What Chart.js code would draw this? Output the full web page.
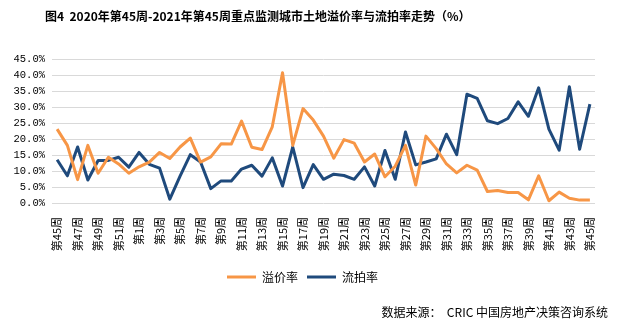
<!DOCTYPE html>
<html>
<head>
<meta charset="utf-8">
<script src="https://cdn.jsdelivr.net/npm/chart.js@4/dist/chart.umd.min.js"></script>
<style>
  html, body { margin: 0; padding: 0; background: #fff; }
  #wrap { position: relative; width: 626px; height: 331px; overflow: hidden; }
  #c { position: absolute; left: 0; top: 0; }
  #title { position: absolute; left: 45px; top: 7px; font: bold 12px "Noto Sans CJK SC", sans-serif; color: #000; white-space: pre; }
  #source { position: absolute; right: 18px; top: 303px; font: 12px "Noto Sans CJK SC", sans-serif; color: #000; white-space: pre; }
</style>
</head>
<body>
<div id="wrap">
  <canvas id="c" width="626" height="331"></canvas>
  <div id="title">图4  2020年第45周-2021年第45周重点监测城市土地溢价率与流拍率走势（%）</div>
  <div id="source">数据来源：  CRIC 中国房地产决策咨询系统</div>
</div>
<script>
// Categories: week 45 of 2020 through week 45 of 2021
const weeks2020 = [45, 46, 47, 48, 49, 50, 51, 52];
const weeks2021 = [1,2,3,4,5,6,7,8,9,10,11,12,13,14,15,16,17,18,19,20,21,22,23,24,25,26,27,28,29,30,31,32,33,34,35,36,37,38,39,40,41,42,43,44,45];
const categories = weeks2020.concat(weeks2021).map(w => '第' + w + '周');

const seriesNames = ['溢价率', '流拍率'];

const premiumRate = [23.1, 18.0, 7.3, 18.0, 9.3, 14.3, 12.2, 9.3, 11.3, 12.8, 15.8, 13.9, 17.5, 20.3,
  12.8, 14.4, 18.5, 18.4, 25.6, 17.4, 16.7, 23.8, 40.7,
  18.0, 29.5, 25.9, 20.9, 14.0, 19.8, 18.7, 12.8, 15.3, 8.2, 11.5, 18.0, 5.6,
  20.9, 17.0, 12.2, 9.4, 11.8, 10.3, 3.6, 3.9, 3.3, 3.3, 1.0, 8.5, 0.7, 3.4, 1.5, 0.9, 0.9];

const failedRate = [13.5, 8.5, 17.5, 7.2, 13.3, 13.3, 14.3, 11.2, 15.8, 12.1, 10.9, 1.2, 8.4, 15.1,
  12.8, 4.5, 6.9, 6.9, 10.6, 11.8, 8.4, 14.1, 5.3,
  17.5, 4.8, 12.0, 7.4, 9.0, 8.6, 7.4, 11.3, 5.3, 16.4, 7.4, 22.2, 11.9,
  12.8, 13.8, 21.5, 15.1, 34.0, 32.7, 25.7, 24.8, 26.4, 31.6, 27.1, 36.0, 23.1, 16.5, 36.3, 16.8, 30.9];

const yTicks = [0, 5, 10, 15, 20, 25, 30, 35, 40, 45];

const ORANGE = '#F79646';
const BLUE = '#1F4A7C';

new Chart(document.getElementById('c'), {
  type: 'line',
  data: {
    labels: categories,
    datasets: [
      { label: seriesNames[0], data: premiumRate, borderColor: ORANGE, backgroundColor: ORANGE, borderWidth: 3, pointRadius: 0, tension: 0, borderJoinStyle: 'round' },
      { label: seriesNames[1], data: failedRate, borderColor: BLUE, backgroundColor: BLUE, borderWidth: 3, pointRadius: 0, tension: 0, borderJoinStyle: 'round' }
    ]
  },
  options: {
    responsive: false,
    animation: false,
    events: [],
    layout: { padding: { left: 10, right: 31, top: 59, bottom: 38 } },
    scales: {
      x: {
        offset: true,
        grid: { display: false },
        border: { display: false },
        ticks: {
          autoSkip: false,
          maxRotation: 90,
          minRotation: 90,
          padding: 6,
          color: '#000',
          font: { family: '"Noto Sans CJK SC", sans-serif', size: 11 },
          callback: function (v, i) { return i % 2 === 0 ? this.getLabelForValue(v) : ''; }
        },
        afterFit: s => { s.height = 59; }
      },
      y: {
        min: 0,
        max: 45,
        afterBuildTicks: s => { s.ticks = yTicks.map(v => ({ value: v })); },
        grid: { color: '#D9D9D9', lineWidth: 1, drawTicks: false },
        border: { display: false },
        ticks: {
          padding: 7,
          color: '#000',
          font: { family: '"Liberation Mono", monospace', size: 10.5 },
          callback: v => v.toFixed(1) + '%'
        },
        afterFit: s => { s.width = 42; }
      }
    },
    plugins: {
      title: { display: false },
      tooltip: { enabled: false },
      legend: {
        display: true,
        position: 'bottom',
        labels: {
          boxWidth: 29,
          boxHeight: 3,
          padding: 9,
          color: '#000',
          font: { family: '"Noto Sans CJK SC", sans-serif', size: 12 },
          generateLabels: chart => chart.data.datasets.map((d, i) => ({
            text: d.label, fillStyle: d.borderColor, strokeStyle: d.borderColor, lineWidth: 0, datasetIndex: i, hidden: false
          }))
        }
      }
    }
  }
});
</script>
</body>
</html>
